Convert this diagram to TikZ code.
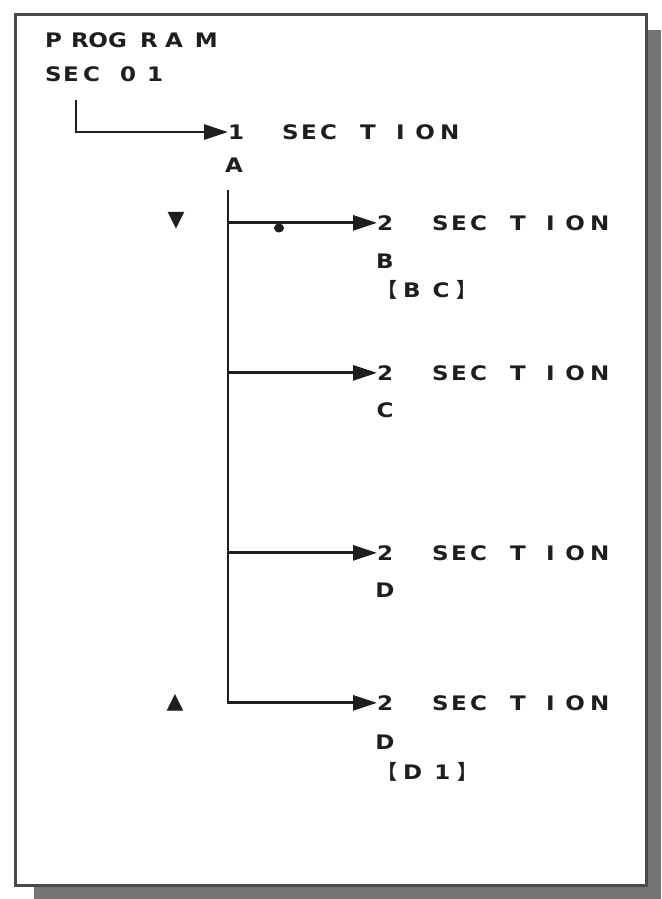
\documentclass[tikz,border=0pt]{standalone}
\usepackage{fontspec}
\setmainfont{DejaVu Sans}
\newfontfamily\lblfont{DejaVu Sans}[FakeStretch=1.15]
\newfontfamily\cjk{Noto Sans CJK JP}
\newfontfamily\symf{DejaVu Sans}
\usetikzlibrary{arrows.meta}
\definecolor{inkc}{HTML}{1E1E1E}
\definecolor{framec}{HTML}{4A4A4A}
\definecolor{shadowc}{HTML}{747474}
\newcommand\wSECTION{S\kern2.4pt E\kern3.3pt C\kern23.1pt T\kern20.4pt I\kern10.5pt O\kern5.4pt N}
\begin{document}
\begin{tikzpicture}[x=1pt,y=-1pt,
  lbl/.style={font=\lblfont\fontsize{20}{22}\selectfont\bfseries, inner sep=0pt, text=inkc, anchor=base west},
  sub/.style={lbl, anchor=base},
  marker/.style={font=\symf\fontsize{22}{24}\selectfont, inner sep=0pt, text=inkc},
  conn/.style={draw=inkc, line width=2.8pt, -{Triangle[length=24pt,width=15pt]}}]
\useasboundingbox (0,0) rectangle (661,899);
\fill[white] (0,0) rectangle (661,899);
\fill[shadowc] (34,30) rectangle (661,899);
\draw[framec, line width=3pt, fill=white] (15,15) rectangle (646,885);
% texts
\node[lbl] (prog) at (45,47.3) {P\kern9pt R\kern-0.5pt O\kern0.4pt G\kern13.1pt R\kern7.3pt A\kern12pt M};
\node[lbl] (sec) at (45,81.3) {S\kern1.4pt E\kern4.3pt C\kern20.1pt 0\kern11pt 1};
\node[lbl] (one) at (228,139.3) {1};
\node[lbl] (s0) at (282,139.3) {\wSECTION};
\node[sub] (a) at (234,172.3) {A};
% rows
\node[lbl] (t1) at (377,230.3) {2};
\node[lbl] (s1) at (432,230.3) {\wSECTION};
\node[sub] (b) at (385,268.3) {B};
\node[lbl] (bc) at (377,297.3) {{\cjk 【}\kern6pt B\kern12pt C\kern7pt{\cjk 】}};
\node[lbl] (t2) at (377,380.3) {2};
\node[lbl] (s2) at (432,380.3) {\wSECTION};
\node[sub] (c) at (385,417.3) {C};
\node[lbl] (t3) at (377,560.3) {2};
\node[lbl] (s3) at (432,560.3) {\wSECTION};
\node[sub] (d) at (385,597.3) {D};
\node[lbl] (t4) at (377,710.3) {2};
\node[lbl] (s4) at (432,710.3) {\wSECTION};
\node[sub] (d2) at (385,749.3) {D};
\node[lbl] (d1) at (377,779.3) {{\cjk 【}\kern6pt D\kern12pt 1\kern7pt{\cjk 】}};
% markers
\node[marker] (down) at (176,221) {▼};
\node[marker] (up) at (175,703) {▲};
\fill[inkc] (279,228) ellipse (5pt and 4.5pt);
% connectors
\coordinate (c0) at (76,100);
\coordinate (vtop) at (228,190);
\draw[conn] (c0) |- (one.west);
\draw[conn] (vtop) |- (t4.west);
\draw[conn] (vtop |- t1.west) -- (t1.west);
\draw[conn] (vtop |- t2.west) -- (t2.west);
\draw[conn] (vtop |- t3.west) -- (t3.west);
\end{tikzpicture}
\end{document}
